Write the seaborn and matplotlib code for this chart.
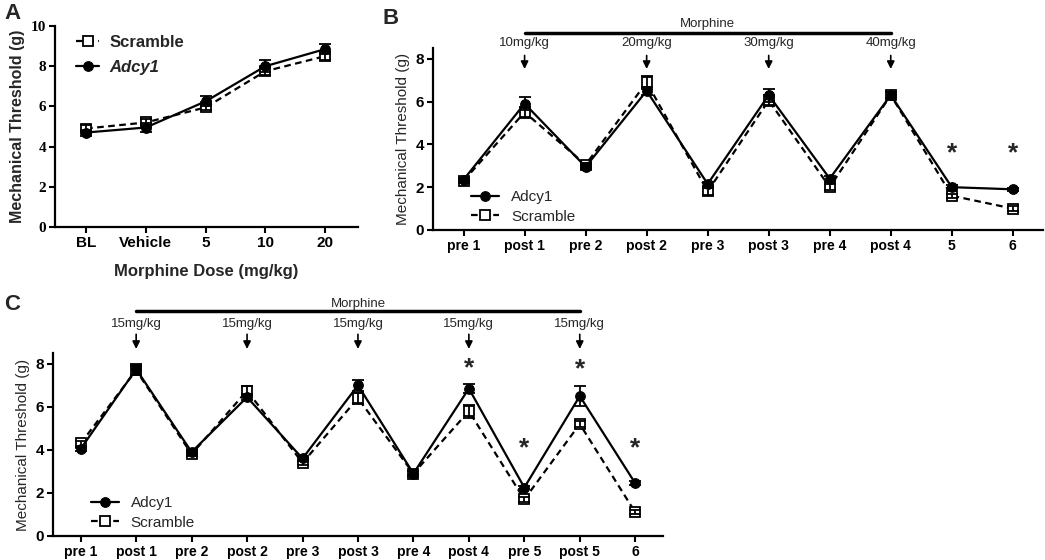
import numpy as np
import pandas as pd
import seaborn as sns
import matplotlib.pyplot as plt

sns.set_theme(style="ticks")
plt.rcParams['font.family'] = ['Liberation Sans', 'DejaVu Sans']

# ---- panel A data
a_labels = ["BL", "Vehicle", "5", "10", "20"]
a_scr = [4.9, 5.2, 5.95, 7.75, 8.5]
a_scr_err = [0.15, 0.15, 0.15, 0.2, 0.2]
a_ady = [4.7, 4.95, 6.25, 8.0, 8.85]
a_ady_err = [0.15, 0.2, 0.25, 0.3, 0.25]

# ---- panel B data
b_labels = ["pre 1", "post 1", "pre 2", "post 2", "pre 3", "post 3", "pre 4", "post 4", "5", "6"]
b_ady = [2.35, 5.9, 2.95, 6.5, 2.15, 6.3, 2.4, 6.3, 2.0, 1.9]
b_ady_err = [0.1, 0.3, 0.1, 0.2, 0.1, 0.3, 0.1, 0.15, 0.08, 0.08]
b_scr = [2.3, 5.5, 3.05, 6.9, 1.8, 6.05, 2.0, 6.3, 1.6, 1.0]
b_scr_err = [0.1, 0.25, 0.1, 0.3, 0.15, 0.25, 0.15, 0.15, 0.1, 0.1]
b_doses = ["10mg/kg", "20mg/kg", "30mg/kg", "40mg/kg"]
b_dose_at = [1, 3, 5, 7]
b_stars = [8, 9]

# ---- panel C data
c_labels = ["pre 1", "post 1", "pre 2", "post 2", "pre 3", "post 3", "pre 4", "post 4", "pre 5", "post 5", "6"]
c_ady = [4.05, 7.75, 3.9, 6.45, 3.6, 7.0, 2.9, 6.85, 2.25, 6.5, 2.45]
c_ady_err = [0.1, 0.25, 0.1, 0.15, 0.1, 0.25, 0.1, 0.2, 0.08, 0.45, 0.1]
c_scr = [4.3, 7.7, 3.8, 6.75, 3.4, 6.4, 2.9, 5.8, 1.7, 5.2, 1.1]
c_scr_err = [0.1, 0.2, 0.1, 0.2, 0.1, 0.25, 0.1, 0.3, 0.1, 0.15, 0.1]
c_doses = ["15mg/kg"] * 5
c_dose_at = [1, 3, 5, 7, 9]
c_stars = [7, 8, 9, 10]
c_star_y = [7.8, 4.05, 7.75, 4.05]


def draw_series(ax, vals, errs, name, kind):
    df = pd.DataFrame({"x": np.arange(len(vals)), "y": vals})
    if kind == "ady":
        sns.lineplot(data=df, x="x", y="y", ax=ax, color="black", lw=1.6,
                     marker="o", markersize=7, markerfacecolor="black",
                     markeredgecolor="black", label=name, zorder=4)
    else:
        sns.lineplot(data=df, x="x", y="y", ax=ax, color="black", lw=1.6,
                     marker="s", markersize=7, markerfacecolor="white",
                     markeredgecolor="black", markeredgewidth=1.3,
                     dashes=(3, 2), label=name, zorder=3)
    ax.errorbar(df["x"], df["y"], yerr=errs, fmt="none", ecolor="black",
                elinewidth=1.3, capsize=4, capthick=1.3, zorder=5)


def style_ax(ax, labels, ylim, yticks):
    ax.set_xlim(-0.5, len(labels) - 0.5)
    ax.set_ylim(*ylim)
    ax.set_xticks(range(len(labels)))
    ax.set_xticklabels(labels, fontweight="bold", fontsize=10)
    ax.set_yticks(yticks)
    ax.tick_params(direction="out", width=1.5, length=4, pad=2.5, colors="black")
    for s in ["top", "right"]:
        ax.spines[s].set_visible(False)
    for s in ["left", "bottom"]:
        ax.spines[s].set_linewidth(1.6)
        ax.spines[s].set_color("black")
    ax.set_xlabel("")


def morphine_bar(ax, dose_at, doses, ybar, ytxt, ydose, yarr0, yarr1):
    ax.plot([dose_at[0], dose_at[-1]], [ybar, ybar], color="black", lw=2.5, clip_on=False)
    ax.text((dose_at[0] + dose_at[-1]) / 2, ytxt, "Morphine", ha="center", va="center", fontsize=9.5)
    for x, d in zip(dose_at, doses):
        ax.text(x, ydose, d, ha="center", va="center", fontsize=9.5)
        ax.annotate("", xy=(x, yarr1), xytext=(x, yarr0),
                    arrowprops=dict(arrowstyle="-|>", color="black", lw=1.2, mutation_scale=11),
                    annotation_clip=False)


fig = plt.figure(figsize=(10.45, 5.6), dpi=100)

# ---------- panel A
axA = fig.add_axes([0.0526, 0.5946, 0.29, 0.359])
draw_series(axA, a_scr, a_scr_err, "Scramble", "scr")
draw_series(axA, a_ady, a_ady_err, "Adcy1", "ady")
style_ax(axA, a_labels, (0, 10), [0, 2, 4, 6, 8, 10])
axA.set_xlim(-0.52, 4.55)
axA.set_xticklabels(a_labels, fontweight="bold", fontsize=11)
axA.set_yticklabels([str(v) for v in range(0, 11, 2)], fontweight="bold", fontsize=11,
                    family="Liberation Serif")
axA.set_ylabel("Mechanical Threshold (g)", fontweight="bold", fontsize=11.5)
axA.set_xlabel("Morphine Dose (mg/kg)", fontweight="bold", fontsize=12, labelpad=10)
legA = axA.legend(loc="upper left", bbox_to_anchor=(0.02, 1.03), frameon=False,
                  prop=dict(weight="bold", size=12), handlelength=1.4, handletextpad=0.6,
                  labelspacing=0.6)
legA.get_texts()[1].set_fontstyle("italic")
fig.text(0.004, 0.995, "A", fontsize=16, fontweight="bold", va="top")

# ---------- panel B
axB = fig.add_axes([0.4144, 0.5893, 0.584, 0.325])
draw_series(axB, b_ady, b_ady_err, "Adcy1", "ady")
draw_series(axB, b_scr, b_scr_err, "Scramble", "scr")
style_ax(axB, b_labels, (0, 8.5), [0, 2, 4, 6, 8])
axB.set_yticklabels([str(v) for v in range(0, 9, 2)], fontweight="bold", fontsize=11)
axB.set_ylabel("Mechanical Threshold (g)", fontsize=11)
axB.legend(loc="lower left", bbox_to_anchor=(0.04, -0.04), frameon=False,
           prop=dict(size=11), handlelength=1.8, labelspacing=0.35)
morphine_bar(axB, b_dose_at, b_doses, 9.22, 9.64, 8.75, 8.28, 7.39)
for i in b_stars:
    axB.text(i, 3.6, "*", ha="center", va="center", fontsize=19, fontweight="bold")
fig.text(0.366, 0.985, "B", fontsize=16, fontweight="bold", va="top")

# ---------- panel C
axC = fig.add_axes([0.0507, 0.0429, 0.5837, 0.3267])
draw_series(axC, c_ady, c_ady_err, "Adcy1", "ady")
draw_series(axC, c_scr, c_scr_err, "Scramble", "scr")
style_ax(axC, c_labels, (0, 8.5), [0, 2, 4, 6, 8])
axC.set_yticklabels([str(v) for v in range(0, 9, 2)], fontweight="bold", fontsize=11)
axC.set_ylabel("Mechanical Threshold (g)", fontsize=11)
axC.legend(loc="lower left", bbox_to_anchor=(0.04, -0.04), frameon=False,
           prop=dict(size=11), handlelength=1.8, labelspacing=0.35)
morphine_bar(axC, c_dose_at, c_doses, 10.43, 10.8, 9.87, 9.5, 8.56)
for i, yy in zip(c_stars, c_star_y):
    axC.text(i, yy, "*", ha="center", va="center", fontsize=19, fontweight="bold")
fig.text(0.004, 0.475, "C", fontsize=16, fontweight="bold", va="top")

fig.savefig("out.png", dpi=100)
